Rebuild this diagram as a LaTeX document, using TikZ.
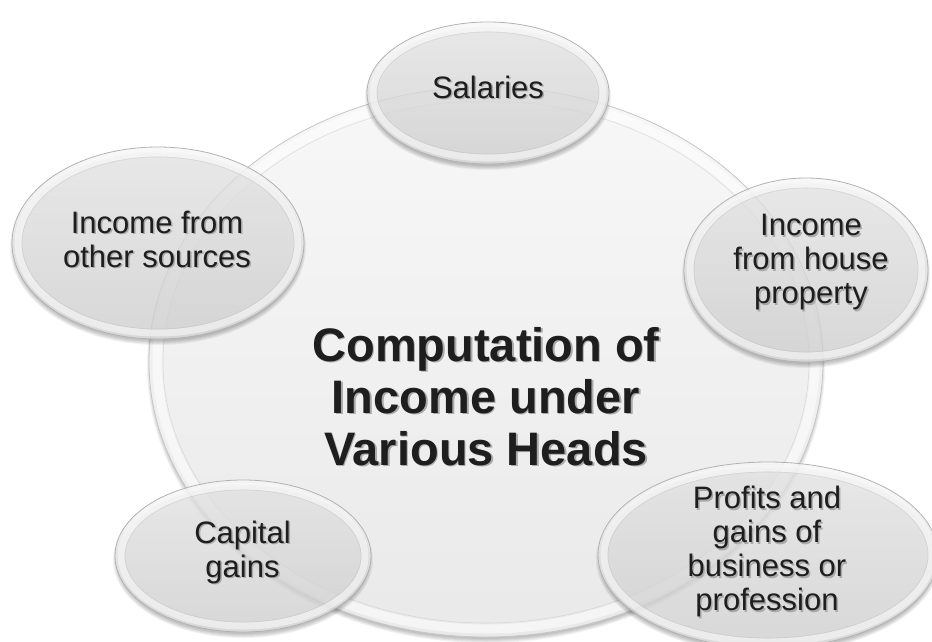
\documentclass[tikz,border=0pt]{standalone}
\usepackage{fontspec}
\setmainfont{Liberation Sans}
\usetikzlibrary{shapes.geometric}
\definecolor{txtc}{HTML}{1E1E1E}
\definecolor{shc}{HTML}{AAAAAA}
\newcommand\shl[1]{\makebox[0pt][l]{\hspace{1.5pt}\raisebox{-1.5pt}{\textcolor{shc}{#1}}}#1}
\tikzset{
  bubble/.style={ellipse, draw=gray!60, line width=0.8pt, top color=gray!6, bottom color=gray!24, fill opacity=0.72, inner sep=0pt, outer sep=0pt},
  bigbubble/.style={ellipse, draw=gray!45, line width=0.8pt, top color=gray!6, bottom color=gray!17, inner sep=0pt, outer sep=0pt},
  ringw/.style={white, opacity=0.5, line width=7pt},
  ringl/.style={gray!60, opacity=0.35, line width=0.6pt},
  shadowe/.style={black, opacity=0.05},
  lbl/.style={text=txtc, align=center, font=\fontsize{31}{34}\selectfont, inner sep=0pt},
  biglbl/.style={text=txtc, align=center, font=\bfseries\fontsize{47}{52}\selectfont, inner sep=0pt}
}
% name, x, y, rx, ry
\newcommand\mybub[5]{%
  \foreach \k in {1,...,5} {\fill[shadowe] (#2,#3+4) ellipse [x radius=#4+\k-3, y radius=#5+\k-3];}
  \node[bubble, minimum width=2*#4pt, minimum height=2*#5pt] (#1) at (#2,#3) {};
  \draw[ringw] (#1.center) ellipse [x radius=#4-6, y radius=#5-6];
  \draw[ringl] (#1.center) ellipse [x radius=#4-10, y radius=#5-10];
}
\begin{document}
\begin{tikzpicture}[x=1pt,y=-1pt]
\useasboundingbox (0,0) rectangle (932,641);
\fill[white] (0,0) rectangle (932,641);
% main circle
\foreach \k in {1,...,5} {\fill[shadowe] (486,366) ellipse [x radius=337+\k-3, y radius=275+\k-3];}
\node[bigbubble, minimum width=674pt, minimum height=550pt] (main) at (486,362) {};
\draw[white, opacity=0.55, line width=9pt] (main.center) ellipse [x radius=329, y radius=267];
\draw[ringl] (main.center) ellipse [x radius=323, y radius=261];
\node[biglbl] (main-t) at (486,397) {\shl{Computation of}\\\shl{Income under}\\\shl{Various Heads}};
% small bubbles
\mybub{sal}{488}{93}{121}{71}
\mybub{oth}{158}{243}{146}{96}
\mybub{hou}{806}{270}{122}{92}
\mybub{cap}{243}{556}{128}{76}
\mybub{pro}{768}{555}{170}{93}
% labels
\node[lbl] (sal-t) at (488,88) {\shl{Salaries}};
\node[lbl] (oth-t) at (157,240) {\shl{Income from}\\\shl{other sources}};
\node[lbl] (hou-t) at (811,263) {\shl{Income}\\\shl{from house}\\\shl{property}};
\node[lbl] (cap-t) at (242.5,553) {\shl{Capital}\\\shl{gains}};
\node[lbl] (pro-t) at (767,552.5) {\shl{Profits and}\\\shl{gains of}\\\shl{business or}\\\shl{profession}};
\end{tikzpicture}
\end{document}
